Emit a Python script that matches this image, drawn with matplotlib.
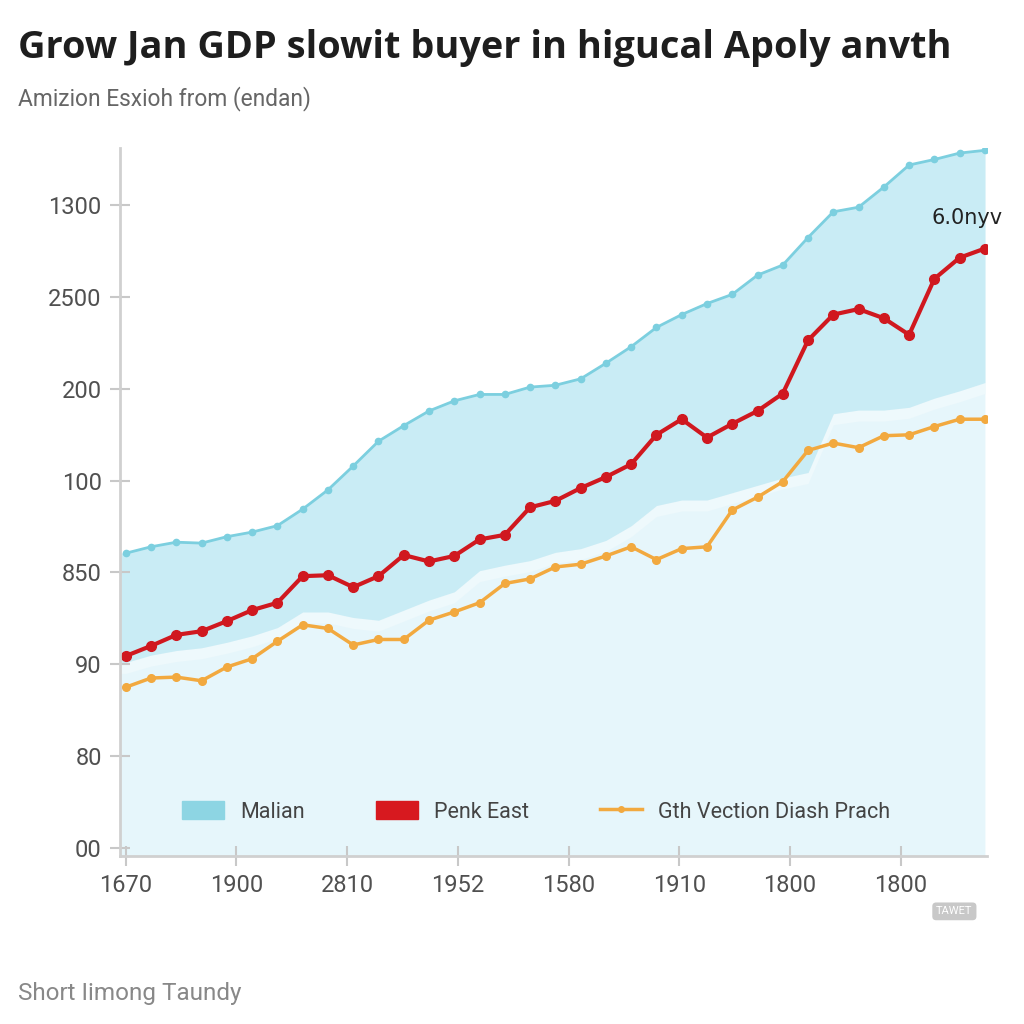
import numpy as np
import matplotlib.pyplot as plt
from matplotlib.patches import Patch
from matplotlib.lines import Line2D

plt.rcParams['font.family'] = ['Roboto', 'DejaVu Sans']

# tick labels as printed on the chart
xlabels = ['1670', '1900', '2810', '1952', '1580', '1910', '1800', '1800']
ylabels = ['00', '80', '90', '850', '100', '200', '2500', '1300']

# series (in tick-step units)
malian = [3.21, 3.28, 3.33, 3.32, 3.39, 3.44, 3.51, 3.69, 3.90, 4.16, 4.43, 4.60,
          4.76, 4.87, 4.94, 4.94, 5.02, 5.04, 5.11, 5.28, 5.46, 5.67, 5.81, 5.93,
          6.03, 6.24, 6.35, 6.65, 6.93, 6.98, 7.20, 7.44, 7.50, 7.57, 7.60]
band_low = [2.02, 2.10, 2.15, 2.18, 2.24, 2.31, 2.40, 2.57, 2.57, 2.51, 2.48, 2.59,
            2.70, 2.79, 3.02, 3.08, 3.13, 3.22, 3.26, 3.35, 3.51, 3.73, 3.79, 3.79,
            3.87, 3.95, 4.03, 4.09, 4.73, 4.77, 4.77, 4.80, 4.90, 4.98, 5.07]
penk = [2.09, 2.20, 2.32, 2.36, 2.47, 2.59, 2.67, 2.96, 2.97, 2.84, 2.96, 3.19,
        3.12, 3.18, 3.36, 3.41, 3.71, 3.78, 3.92, 4.04, 4.18, 4.50, 4.67, 4.47,
        4.62, 4.76, 4.95, 5.53, 5.81, 5.87, 5.77, 5.59, 6.20, 6.43, 6.53]
gth = [1.75, 1.85, 1.86, 1.82, 1.97, 2.06, 2.25, 2.43, 2.39, 2.21, 2.27, 2.27,
       2.48, 2.57, 2.67, 2.88, 2.93, 3.06, 3.09, 3.18, 3.28, 3.14, 3.26, 3.28,
       3.68, 3.82, 3.99, 4.33, 4.41, 4.36, 4.49, 4.50, 4.59, 4.67, 4.67]

x = np.linspace(0, 7.76, len(malian))
ybot = -0.09

fig = plt.figure(figsize=(10.24, 10.24), dpi=100)
ax = fig.add_axes([0.117, 0.164, 0.847, 0.691])

# background fills (start at the spine)
xf = np.concatenate([[-0.054], x])
def ext(v):
    return np.concatenate([[v[0]], v])
ax.fill_between(xf, ybot, ext(malian), color='#e6f6fb', lw=0)
ax.fill_between(xf, ext(np.array(band_low) - 0.12), ext(band_low), color='#eef9fc', lw=0)
ax.fill_between(xf, ext(band_low), ext(malian), color='#c9ecf5', lw=0)

ax.plot(x, malian, color='#7ccfdf', lw=2, marker='o', ms=4.5)
ax.plot(x, gth, color='#f2a93f', lw=2.5, marker='o', ms=5.5)
ax.plot(x, penk, color='#d0181f', lw=3, marker='o', ms=7)

ax.annotate('6.0nyv', (x[-1], penk[-1]), xytext=(-13, 22), textcoords='offset points',
            ha='center', va='center', fontsize=15, color='#222222',
            family='DejaVu Sans')

ax.set_xlim(-0.054, 7.78)
ax.set_ylim(ybot, 7.62)
ax.set_xticks(range(len(xlabels)))
ax.set_xticklabels(xlabels)
ax.set_yticks(range(len(ylabels)))
ax.set_yticklabels(ylabels)
ax.tick_params(direction='inout', length=14, width=1.5, color='#c8c8c8',
               labelsize=17, labelcolor='#505050', pad=6)
for s in ['top', 'right']:
    ax.spines[s].set_visible(False)
for s in ['left', 'bottom']:
    ax.spines[s].set_color('#d0d0d0')
    ax.spines[s].set_linewidth(2)

handles = [Patch(color='#8dd5e3'), Patch(color='#d7191f'),
           Line2D([0], [0], color='#f2a93f', lw=2.5, marker='o', ms=4)]
ax.legend(handles, ['Malian', 'Penk East', 'Gth Vection Diash Prach'], ncol=3,
          loc='lower center', bbox_to_anchor=(0.48, 0.02), frameon=False,
          fontsize=15.5, labelcolor='#444444', columnspacing=3.3,
          handlelength=1.95, handletextpad=0.75, handleheight=0.9)

fig.text(0.018, 0.953, 'Grow Jan GDP slowit buyer in higucal Apoly anvth',
         fontsize=27.3, fontweight='bold', color='#1e1e1e', va='center',
         family='Open Sans')
fig.text(0.018, 0.904, 'Amizion Esxioh from (endan)', fontsize=16.4,
         color='#666666', va='center')
fig.text(0.018, 0.030, 'Short Iimong Taundy', fontsize=17.5, color='#888888',
         va='center')
fig.text(0.932, 0.110, 'TAWET', fontsize=8, color='white', ha='center', va='center',
         bbox=dict(boxstyle='round,pad=0.35', fc='#c8c8c8', ec='none'))

fig.savefig('out.png', dpi=100)
